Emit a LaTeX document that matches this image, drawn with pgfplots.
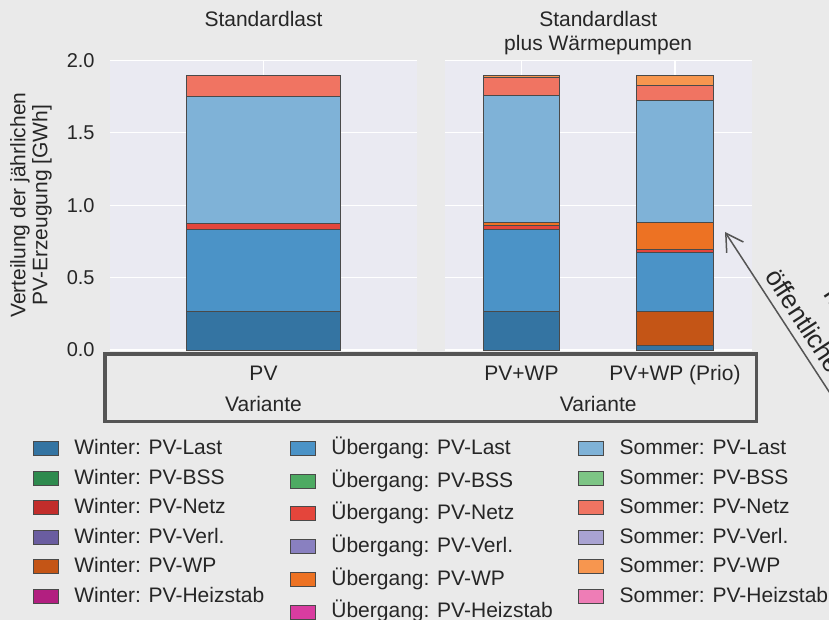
\documentclass[border=0pt]{standalone}
\usepackage{pgfplots}
\pgfplotsset{compat=1.18}
\usepackage{pgfplotstable}
\usepackage{fontspec}
\setmainfont{Liberation Sans}
\usetikzlibrary{arrows.meta}

\definecolor{figbg}{HTML}{EAEAEA}
\definecolor{plotbg}{HTML}{EAEAF2}
\definecolor{txt}{HTML}{262626}
\definecolor{edge}{HTML}{4A4A4A}
\definecolor{boxcol}{HTML}{555555}
\definecolor{WL}{HTML}{3474A2}
\definecolor{UL}{HTML}{4B93C7}
\definecolor{SL}{HTML}{7FB2D7}
\definecolor{WB}{HTML}{2E8A4E}
\definecolor{UB}{HTML}{4DAA62}
\definecolor{SB}{HTML}{7DC585}
\definecolor{WN}{HTML}{C22D2B}
\definecolor{UN}{HTML}{E4453B}
\definecolor{SN}{HTML}{F07462}
\definecolor{WV}{HTML}{6A5DA0}
\definecolor{UV}{HTML}{8980C0}
\definecolor{SV}{HTML}{A9A3D2}
\definecolor{WW}{HTML}{C45516}
\definecolor{UW}{HTML}{ED7223}
\definecolor{SW}{HTML}{F7964F}
\definecolor{WH}{HTML}{B21F80}
\definecolor{UH}{HTML}{D93CA0}
\definecolor{SH}{HTML}{EE7DB6}

\pgfplotstableread{
x WL UL UN SL SN
0 0.269 0.566 0.042 0.877 0.142
}\tabPV

\pgfplotstableread{
x WL WWP UL UN UWP SL SN SWP
0 0.269 0.000 0.564 0.030 0.020 0.877 0.123 0.015
1 0.030 0.239 0.405 0.021 0.184 0.842 0.108 0.069
}\tabWP

\pgfplotsset{
  patchleg/.style={legend image code/.code={\draw[##1,line width=0.4pt] (0pt,-3.5pt) rectangle (12.5pt,3.5pt);}},
  legbase/.style={legend style={draw=none, fill=none, inner sep=0pt, outer sep=0pt, anchor=north west,
      font=\fontsize{10.5}{12}\selectfont, text=txt, cells={anchor=west},
      nodes={inner sep=0pt, text height=8pt, text depth=2pt}, column sep=7.9pt}},
  basestyle/.style={
    scale only axis, width=153.5pt, height=144.85pt,
    ymin=0, ymax=2, ytick={0,0.5,1,1.5,2},
    ybar stacked, bar width=0.5,
    axis background/.style={fill=plotbg},
    grid=major, major grid style={white, line width=0.6pt},
    axis line style={draw=none}, major tick length=0pt,
    /pgf/number format/assume math mode=true,
    yticklabel style={/pgf/number format/fixed, /pgf/number format/fixed zerofill, /pgf/number format/precision=1},
    every tick label/.append style={text=txt},
    yticklabel style={font=\fontsize{10}{12}\selectfont, inner sep=0pt, xshift=-7.5pt},
    xticklabel style={anchor=base, inner sep=0pt, yshift=-15.25pt},
    xlabel style={at={(axis description cs:0.5,0)}, anchor=base, inner sep=0pt, yshift=-30.75pt, text=txt},
    title style={at={(axis description cs:0.5,1)}, anchor=north, inner sep=0pt, yshift=18.9pt, text=txt, align=center, font=\fontsize{10.5}{12}\selectfont},
    legbase,
    every axis plot/.append style={draw=edge, line width=0.4pt},
  }
}

\begin{document}
\fontsize{10.5}{12}\selectfont
\begin{tikzpicture}
\useasboundingbox (0,0) rectangle (414.5pt,-310pt);
\fill[figbg] (0,0) rectangle (414.5pt,-310pt);

% left axis
\begin{axis}[basestyle, at={(55pt,-175pt)}, anchor=south west,
  xmin=-0.5, xmax=0.5, xtick={0}, xticklabels={PV},
  xlabel={Variante}, title={Standardlast},
  ylabel={Verteilung der jährlichen\\PV-Erzeugung [GWh]},
  ylabel style={at={(axis description cs:0,0.5)}, anchor=center, align=center, inner sep=0pt,
    yshift=39.5pt, text=txt, font=\fontsize{10.5}{11}\selectfont},
  legend style={at={(-0.2515,-0.3054)}, row sep=4.8pt}]
\addplot[fill=WL, forget plot] table[x=x,y=WL]{\tabPV};
\addplot[fill=UL, forget plot] table[x=x,y=UL]{\tabPV};
\addplot[fill=UN, forget plot] table[x=x,y=UN]{\tabPV};
\addplot[fill=SL, forget plot] table[x=x,y=SL]{\tabPV};
\addplot[fill=SN, forget plot] table[x=x,y=SN]{\tabPV};
\addlegendimage{patchleg, fill=WL, draw=edge}\addlegendentry{Winter: PV-Last}
\addlegendimage{patchleg, fill=WB, draw=edge}\addlegendentry{Winter: PV-BSS}
\addlegendimage{patchleg, fill=WN, draw=edge}\addlegendentry{Winter: PV-Netz}
\addlegendimage{patchleg, fill=WV, draw=edge}\addlegendentry{Winter: PV-Verl.}
\addlegendimage{patchleg, fill=WW, draw=edge}\addlegendentry{Winter: PV-WP}
\addlegendimage{patchleg, fill=WH, draw=edge}\addlegendentry{Winter: PV-Heizstab}
\end{axis}

% right axis
\begin{axis}[basestyle, at={(222.35pt,-175pt)}, anchor=south west,
  xmin=-0.5, xmax=1.5, xtick={0,1}, xticklabels={PV+WP, PV+WP (Prio)},
  yticklabels={},
  xlabel={Variante}, title={Standardlast\\plus Wärmepumpen},
  legend style={at={(-0.5046,-0.3054)}, row sep=6.35pt}]
\addplot[fill=WL, forget plot] table[x=x,y=WL]{\tabWP};
\addplot[fill=WW, forget plot] table[x=x,y=WWP]{\tabWP};
\addplot[fill=UL, forget plot] table[x=x,y=UL]{\tabWP};
\addplot[fill=UN, forget plot] table[x=x,y=UN]{\tabWP};
\addplot[fill=UW, forget plot] table[x=x,y=UWP]{\tabWP};
\addplot[fill=SL, forget plot] table[x=x,y=SL]{\tabWP};
\addplot[fill=SN, forget plot] table[x=x,y=SN]{\tabWP};
\addplot[fill=SW, forget plot] table[x=x,y=SWP]{\tabWP};
\addlegendimage{patchleg, fill=UL, draw=edge}\addlegendentry{Übergang: PV-Last}
\addlegendimage{patchleg, fill=UB, draw=edge}\addlegendentry{Übergang: PV-BSS}
\addlegendimage{patchleg, fill=UN, draw=edge}\addlegendentry{Übergang: PV-Netz}
\addlegendimage{patchleg, fill=UV, draw=edge}\addlegendentry{Übergang: PV-Verl.}
\addlegendimage{patchleg, fill=UW, draw=edge}\addlegendentry{Übergang: PV-WP}
\addlegendimage{patchleg, fill=UH, draw=edge}\addlegendentry{Übergang: PV-Heizstab}
\end{axis}

% third legend column
\begin{axis}[at={(222.35pt,-175pt)}, anchor=south west,
  scale only axis, width=153.5pt, height=144.85pt, hide axis,
  xmin=0, xmax=1, ymin=0, ymax=1, legbase,
  legend style={at={(0.4342,-0.3054)}, row sep=4.8pt}]
\addlegendimage{patchleg, fill=SL, draw=edge}\addlegendentry{Sommer: PV-Last}
\addlegendimage{patchleg, fill=SB, draw=edge}\addlegendentry{Sommer: PV-BSS}
\addlegendimage{patchleg, fill=SN, draw=edge}\addlegendentry{Sommer: PV-Netz}
\addlegendimage{patchleg, fill=SV, draw=edge}\addlegendentry{Sommer: PV-Verl.}
\addlegendimage{patchleg, fill=SW, draw=edge}\addlegendentry{Sommer: PV-WP}
\addlegendimage{patchleg, fill=SH, draw=edge}\addlegendentry{Sommer: PV-Heizstab}
\end{axis}

% frame around the category labels
\begin{scope}[x=0.5pt, y=-0.5pt]
\draw[boxcol, line width=1.75pt] (105,354) rectangle (756.5,421.5);
\clip (0,0) rectangle (829,620);
\draw[boxcol, line width=0.75pt, -{Straight Barb[length=8.5pt,width=10pt]}] (861.5,441.5) -- (725,232);
\node[rotate=-57, anchor=base west, inner sep=0pt, font=\fontsize{13}{15}\selectfont, text=txt] at (764.2,275.7) {öffentlichen Netz};
\node[rotate=-57, anchor=base west, inner sep=0pt, font=\fontsize{13}{15}\selectfont, text=txt] at (820.4,289.8) {Tausch mit dem};
\end{scope}
\end{tikzpicture}
\end{document}
